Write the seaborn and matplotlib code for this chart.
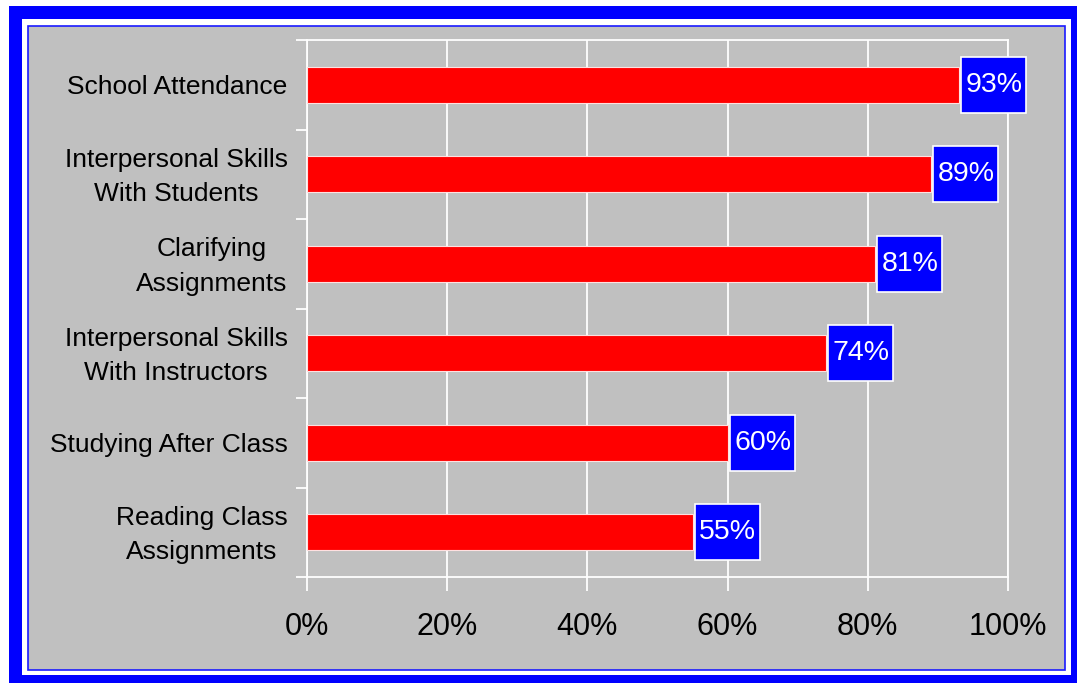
import matplotlib
matplotlib.use("Agg")
import matplotlib.pyplot as plt
from matplotlib.patches import Rectangle
from matplotlib.transforms import ScaledTranslation
import numpy as np
import pandas as pd
import seaborn as sns

# Survey results: share of respondents per area
categories = [
    "School Attendance",
    "Interpersonal Skills\nWith Students",
    "Clarifying\nAssignments",
    "Interpersonal Skills\nWith Instructors",
    "Studying After Class",
    "Reading Class\nAssignments",
]
values = [93, 89, 81, 74, 60, 55]
x_ticks = [0, 20, 40, 60, 80, 100]
x_tick_labels = ["0%", "20%", "40%", "60%", "80%", "100%"]

W, H, DPI = 1077, 683, 100
GREY = "#c0c0c0"
BLUE = "#0000ff"
RED = "#ff0000"

sns.set_theme(style="white")
plt.rcParams["font.family"] = ["Liberation Sans", "DejaVu Sans"]

fig = plt.figure(figsize=(W / DPI, H / DPI), dpi=DPI, facecolor="white")


def frame_rect(x0, y0, x1, y1, **kw):
    """Rectangle given in pixel coordinates measured from the top-left corner."""
    fig.patches.append(Rectangle((x0 / W, 1 - y1 / H), (x1 - x0) / W, (y1 - y0) / H,
                                 transform=fig.transFigure, figure=fig, zorder=-10, **kw))


# Double frame around the chart area
frame_rect(9, 6, 1077, 683, facecolor=BLUE, edgecolor="none")
frame_rect(22, 19, 1071, 675, facecolor="white", edgecolor="none")
frame_rect(27.5, 25.5, 1065, 670, facecolor=GREY, edgecolor="#1a1aff", linewidth=1.2)

ax_left, ax_top, ax_w, ax_h = 307, 40, 701, 537
ax = fig.add_axes([ax_left / W, 1 - (ax_top + ax_h) / H, ax_w / W, ax_h / H])
ax.set_facecolor(GREY)

df = pd.DataFrame({"category": categories, "value": values})
sns.barplot(data=df, x="value", y="category", orient="h", color=RED, saturation=1,
            width=0.4, edgecolor="#ffe0e0", linewidth=0.8, ax=ax, zorder=3)

ax.set_xlim(0, 100)
ax.set_ylim(len(categories) - 0.5, -0.5)
ax.set_xlabel("")
ax.set_ylabel("")

ax.set_xticks(x_ticks)
ax.set_xticklabels(x_tick_labels)
ax.grid(axis="x", color="white", linewidth=1.3)
ax.grid(axis="y", visible=False)
ax.set_axisbelow(True)

for side in ["left", "right", "top", "bottom"]:
    ax.spines[side].set_color("white")
    ax.spines[side].set_linewidth(1.3)

ax.tick_params(axis="x", which="major", direction="out", length=10, width=1.3,
               color="white", labelsize=22, labelcolor="black", pad=15, bottom=True)
ax.set_yticks(np.arange(-0.5, len(categories), 1), minor=True)
ax.tick_params(axis="y", which="minor", direction="out", length=8, width=1.3,
               color="white", left=True)
ax.tick_params(axis="y", which="major", length=0, labelsize=19, labelcolor="black", pad=14)

# Two-line category names: centred lines, nudged up so the pair sits on the bar
lift = ScaledTranslation(0, 5 / DPI, fig.dpi_scale_trans)
for lbl in ax.get_yticklabels():
    lbl.set_multialignment("center")
    lbl.set_linespacing(1.55)
    if "\n" in lbl.get_text():
        lbl.set_transform(lbl.get_transform() + lift)

# Value labels in boxes just past the end of each bar
px_x = 100 / ax_w
px_y = len(categories) / ax_h
box_w, box_h, gap = 65, 56, 2.5
for i, v in enumerate(values):
    x0 = v + gap * px_x
    ax.add_patch(Rectangle((x0, i - box_h / 2 * px_y), box_w * px_x, box_h * px_y,
                           facecolor=BLUE, edgecolor="white", linewidth=1.2,
                           zorder=5, clip_on=False))
    ax.text(x0 + box_w / 2 * px_x, i, f"{v}%", ha="center", va="center",
            color="white", fontsize=20.5, zorder=6, clip_on=False)

fig.savefig("out.png", dpi=DPI, facecolor="white")
